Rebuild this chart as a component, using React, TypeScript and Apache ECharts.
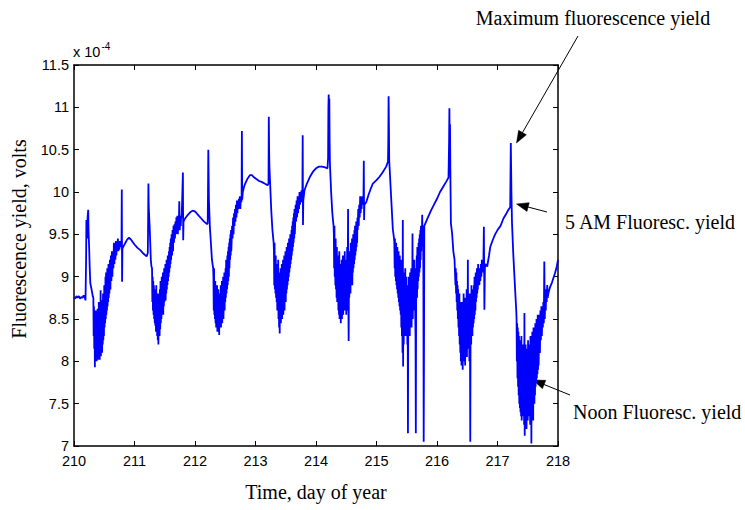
import React, { useEffect, useRef } from "react";
import * as echarts from "echarts";

// ---- data (time in day of year, fluorescence yield in units of 1e-4 V) ----
const xTicks = [210, 211, 212, 213, 214, 215, 216, 217, 218];
const yTicks = [7, 7.5, 8, 8.5, 9, 9.5, 10, 10.5, 11, 11.5];

const day210Start: [number, number][] = [
  [210.0, 8.76], [210.02, 8.74], [210.04, 8.77], [210.06, 8.75], [210.08, 8.77], [210.1, 8.74],
  [210.12, 8.76], [210.14, 8.75], [210.16, 8.78], [210.18, 8.75], [210.19, 8.72], [210.2, 9.2],
  [210.205, 9.67], [210.215, 9.45], [210.225, 9.7], [210.235, 9.79], [210.24, 9.55], [210.25, 9.35],
  [210.26, 9.1], [210.27, 8.92], [210.29, 8.85], [210.31, 8.77],
];
const trough210 = [
  8.75, 8.3, 8.65, 8.15, 8.6, 7.93, 8.55, 8.05, 8.5, 8.1, 8.6, 8.0, 8.45, 8.15, 8.62, 8.02, 8.5, 8.08,
  8.7, 8.12, 8.48, 8.02, 8.58, 8.1, 8.84, 8.06, 8.6, 8.15, 8.72, 8.1, 8.65, 8.2, 8.8, 8.25, 8.7, 8.3,
  8.9, 8.4, 8.82, 8.45, 9.0, 8.5, 9.05, 8.55, 8.95, 8.6, 9.1, 8.65, 9.0, 8.7, 9.15, 8.75, 9.1,
];
const rise210 = [
  8.8, 9.2, 8.85, 9.25, 8.95, 9.3, 9.0, 9.3, 9.1, 9.4, 9.15, 9.38, 9.2, 9.42, 9.25, 9.4, 9.3, 9.45,
  9.3, 9.4, 9.32, 9.42, 9.35, 9.4,
];
const mid211: [number, number][] = [
  [210.785, 9.38], [210.79, 10.03], [210.795, 8.94], [210.8, 9.33], [210.82, 9.36], [210.85, 9.4],
  [210.88, 9.44], [210.91, 9.46], [210.94, 9.44], [210.97, 9.41], [211.0, 9.38], [211.05, 9.34],
  [211.1, 9.31], [211.15, 9.27], [211.2, 9.24], [211.22, 9.28], [211.225, 9.62], [211.23, 10.1],
  [211.235, 9.85], [211.24, 9.75], [211.25, 9.6], [211.26, 9.4], [211.27, 9.2], [211.28, 9.12],
];
const trough211 = [
  9.1, 8.7, 9.0, 8.6, 8.95, 8.55, 8.9, 8.5, 8.85, 8.45, 8.8, 8.42, 8.75, 8.35, 8.9, 8.4, 8.7, 8.3,
  8.65, 8.25, 8.8, 8.2, 8.6, 8.35, 8.7, 8.3, 8.85, 8.38, 8.95, 8.45, 8.7, 8.5, 9.0, 8.55, 8.8, 8.6,
  9.05, 8.55, 8.9, 8.65, 9.1, 8.7, 9.0, 8.75, 9.15, 8.72, 9.05, 8.8, 9.2, 8.85, 9.1, 8.9, 9.25, 8.95,
  9.2, 9.0, 9.3, 9.05, 9.35, 9.1, 9.4, 9.15, 9.45,
];
const rise211 = [
  9.2, 9.5, 9.25, 9.55, 9.3, 9.6, 9.4, 9.62, 9.45, 9.65, 9.5, 9.7, 9.55, 9.72, 9.5, 9.68, 9.6, 9.89,
  9.55, 9.7, 9.6, 9.72,
];
const mid212: [number, number][] = [
  [211.78, 9.7], [211.8, 10.23], [211.805, 9.43], [211.81, 9.65], [211.83, 9.68], [211.87, 9.72],
  [211.92, 9.76], [211.96, 9.78], [212.0, 9.77], [212.05, 9.73], [212.1, 9.69], [212.15, 9.65],
  [212.2, 9.62], [212.21, 9.63], [212.215, 10.0], [212.22, 10.5], [212.225, 10.2], [212.23, 9.91],
  [212.245, 9.6], [212.26, 9.43], [212.28, 9.2], [212.3, 9.1],
];
const trough212 = [
  9.0, 8.6, 9.1, 8.55, 8.9, 8.5, 8.95, 8.45, 8.8, 8.4, 8.75, 8.5, 8.9, 8.35, 8.7, 8.45, 8.85, 8.38,
  8.6, 8.31, 8.8, 8.42, 8.65, 8.5, 8.9, 8.4, 8.75, 8.55, 8.95, 8.45, 8.85, 8.6, 9.0, 8.5, 8.7, 8.65,
  9.05, 8.6, 8.9, 8.7, 9.1, 8.75, 9.2, 8.8, 9.0, 8.85, 9.25, 8.9, 9.3, 8.95, 9.35, 9.0, 9.4, 9.1,
  9.45, 9.2, 9.5, 9.25, 9.55, 9.3,
];
const rise212 = [
  9.4, 9.6, 9.45, 9.7, 9.5, 9.75, 9.6, 9.8, 9.65, 9.85, 9.7, 9.9, 9.75, 9.88, 9.8, 9.92, 9.85, 9.95,
  9.8, 9.92, 9.88,
];
const mid213: [number, number][] = [
  [212.77, 9.9], [212.775, 10.72], [212.78, 9.91], [212.79, 10.0], [212.81, 10.06], [212.83, 10.1],
  [212.87, 10.16], [212.91, 10.2], [212.94, 10.2], [212.98, 10.17], [213.02, 10.15], [213.06, 10.13],
  [213.1, 10.12], [213.15, 10.1], [213.2, 10.08], [213.215, 10.1], [213.22, 10.89], [213.225, 10.5],
  [213.23, 10.3], [213.245, 10.05], [213.26, 9.79], [213.28, 9.55], [213.3, 9.4],
];
const trough213 = [
  9.3, 8.9, 9.4, 8.85, 9.2, 8.8, 9.25, 8.75, 9.1, 8.7, 9.15, 8.6, 9.0, 8.65, 9.2, 8.5, 8.95, 8.4,
  9.05, 8.33, 8.9, 8.55, 9.1, 8.45, 8.85, 8.6, 9.15, 8.5, 9.0, 8.65, 9.2, 8.55, 8.95, 8.7, 9.25, 8.6,
  9.1, 8.75, 9.3, 8.7, 9.05, 8.8, 9.35, 8.85, 9.2, 8.9, 9.4, 8.95, 9.3, 9.0, 9.45, 9.05, 9.35, 9.1,
  9.5, 9.15, 9.45, 9.2, 9.55, 9.25, 9.6, 9.3, 9.65, 9.35, 9.7, 9.4, 9.75, 9.45, 9.8, 9.5,
];
const rise213 = [9.6, 9.85, 9.65, 9.9, 9.7, 9.95, 9.75, 9.9, 9.8, 10.0, 9.85, 9.95, 9.9, 10.02, 9.88];
const mid214: [number, number][] = [
  [213.775, 9.95], [213.78, 10.67], [213.785, 9.61], [213.79, 9.9], [213.81, 10.02], [213.85, 10.1],
  [213.9, 10.18], [213.95, 10.24], [214.0, 10.28], [214.05, 10.3], [214.1, 10.3], [214.15, 10.29],
  [214.19, 10.28], [214.2, 10.4], [214.205, 11.0], [214.21, 11.15], [214.215, 10.9], [214.22, 11.1],
  [214.225, 10.6], [214.23, 10.34], [214.25, 10.0], [214.27, 9.75], [214.29, 9.6],
];
const trough214 = [
  9.5, 9.1, 9.6, 9.0, 9.4, 8.9, 9.45, 8.85, 9.3, 8.75, 9.35, 8.7, 9.2, 8.8, 9.25, 8.6, 9.1, 8.55,
  9.3, 8.5, 9.0, 8.65, 9.15, 8.45, 8.95, 8.6, 9.2, 8.5, 9.05, 8.7, 9.25, 8.55, 8.9, 8.65, 9.1, 8.75,
  9.3, 8.6, 9.0, 8.7, 9.2, 8.55, 9.15, 8.8, 9.35, 8.6, 9.0, 9.8, 8.7, 8.24, 9.1, 8.75, 9.3, 8.9,
  9.2, 8.8, 9.4, 8.95, 9.15, 9.0, 9.45, 8.9, 9.3, 9.05, 9.5, 9.1, 9.4, 9.15, 9.55, 9.2, 9.6, 9.25,
  9.5, 9.3, 9.65, 9.35, 9.6, 9.4, 9.7,
];
const rise214 = [9.55, 9.8, 9.6, 9.85, 9.7, 9.95, 9.75, 9.9, 9.8, 9.95, 9.85, 9.9];
const mid215: [number, number][] = [
  [214.785, 9.95], [214.79, 10.37], [214.795, 9.67], [214.8, 9.85], [214.83, 9.88], [214.87, 9.97],
  [214.9, 10.03], [214.94, 10.1], [215.0, 10.14], [215.05, 10.18], [215.1, 10.23], [215.16, 10.3],
  [215.19, 10.36], [215.195, 10.6], [215.2, 11.13], [215.205, 10.8], [215.21, 10.38], [215.23, 10.1],
  [215.25, 9.83], [215.27, 9.56], [215.29, 9.45],
];
const trough215 = [
  9.4, 9.1, 9.45, 9.0, 9.35, 8.95, 9.4, 8.9, 9.3, 8.85, 9.35, 8.8, 9.25, 8.75, 9.3, 8.7, 9.2, 8.65,
  9.25, 8.6, 9.15, 8.55, 9.1, 8.4, 9.2, 8.3, 9.0, 8.1, 9.67, 7.94, 8.9, 8.2, 9.05, 8.35, 8.85, 8.45,
  9.1, 8.3, 8.95, 8.5, 9.0, 8.4, 8.9, 8.2, 8.8, 7.15, 8.7, 8.35, 9.0, 8.5, 8.85, 8.3, 9.05, 8.45,
  8.9, 8.55, 9.1, 8.4, 9.0, 8.6, 9.51, 8.5, 9.15, 8.6, 9.0, 8.7, 9.2, 8.65, 9.1, 8.55, 8.3, 7.15,
  8.7, 8.8, 9.25, 8.75, 9.35, 8.85, 9.3, 8.95, 9.4, 9.0, 9.45, 9.05, 9.5, 9.1, 9.55, 9.2, 9.6, 9.3,
  9.5, 9.4, 9.73, 9.5, 9.6, 9.55, 9.0, 7.05, 8.1, 9.6,
];
const mid216: [number, number][] = [
  [215.8, 9.6], [215.85, 9.7], [215.9, 9.78], [215.95, 9.85], [216.0, 9.92], [216.05, 10.0],
  [216.1, 10.06], [216.15, 10.12], [216.19, 10.17], [216.2, 10.6], [216.205, 10.99], [216.21, 10.5],
  [216.215, 10.8], [216.22, 10.3], [216.23, 9.63], [216.25, 9.51], [216.27, 9.3], [216.29, 9.2],
];
const trough216 = [
  9.2, 8.9, 9.1, 8.8, 9.05, 8.7, 8.95, 8.6, 8.9, 8.5, 8.85, 8.4, 8.75, 8.3, 8.8, 8.2, 8.7, 8.1,
  8.65, 8.0, 8.6, 7.95, 8.7, 8.05, 8.55, 7.9, 8.65, 8.1, 8.8, 8.0, 8.6, 8.15, 8.75, 7.95, 8.5, 8.1,
  8.7, 8.2, 8.85, 8.05, 8.6, 8.2, 9.2, 8.15, 8.7, 8.3, 8.55, 8.0, 8.8, 8.25, 7.05, 8.4, 8.65, 8.2,
  8.9, 8.35, 8.7, 8.3, 8.85, 8.4, 8.75, 8.45, 8.9, 8.5, 9.0, 8.55, 8.85, 8.6, 9.05, 8.7, 8.95, 8.75,
  9.1, 8.8, 9.0, 8.85, 9.15, 8.9, 9.05, 8.95,
];
const rise216 = [8.9, 9.1, 8.95, 9.15, 9.0, 9.2, 9.05, 9.1, 9.15, 9.59, 8.61, 9.1, 9.15];
const mid217: [number, number][] = [
  [216.83, 9.12], [216.86, 9.25], [216.88, 9.35], [216.92, 9.43], [216.96, 9.5], [217.0, 9.55],
  [217.05, 9.6], [217.1, 9.69], [217.15, 9.75], [217.18, 9.79], [217.21, 9.82], [217.215, 10.2],
  [217.22, 10.58], [217.225, 10.3], [217.23, 9.99], [217.24, 9.63], [217.26, 9.28], [217.28, 9.0],
  [217.3, 8.73], [217.31, 8.6],
];
const trough217 = [
  8.5, 8.0, 8.45, 7.8, 8.4, 7.7, 8.35, 7.6, 8.3, 7.5, 8.2, 7.45, 8.25, 7.4, 8.1, 7.35, 8.3, 7.3,
  8.15, 7.5, 8.05, 7.35, 8.2, 7.4, 8.0, 7.25, 8.57, 7.12, 8.1, 7.3, 8.2, 7.45, 7.95, 7.2, 8.15, 7.4,
  8.0, 7.3, 8.25, 7.5, 8.1, 7.35, 8.2, 7.45, 8.0, 7.25, 8.3, 7.5, 8.05, 7.03, 8.15, 7.4, 8.35, 7.55,
  8.1, 7.3, 8.4, 7.6, 8.2, 7.5, 8.3, 7.6, 8.45, 7.7, 8.35, 7.75, 8.5, 7.8, 8.4, 7.85, 8.55, 7.9,
  8.5, 7.95,
];
const rise217 = [
  8.2, 8.55, 8.1, 8.6, 8.25, 8.65, 8.3, 8.6, 8.4, 8.7, 8.45, 9.18, 8.5, 8.8, 8.6, 8.85, 8.7, 8.9, 8.75,
];
const end218: [number, number][] = [
  [217.84, 8.8], [217.87, 8.88], [217.9, 8.93], [217.95, 9.04], [217.98, 9.12], [218.0, 9.2],
];

// samples recorded at regular intervals between a start and an end time
function sampled(start: number, end: number, values: number[]): [number, number][] {
  const n = values.length;
  return values.map((v, i) => [start + ((end - start) * i) / (n - 1), v]);
}

const series: [number, number][] = [
  ...day210Start,
  ...sampled(210.32, 210.58, trough210),
  ...sampled(210.585, 210.775, rise210),
  ...mid211,
  ...sampled(211.29, 211.6, trough211),
  ...sampled(211.605, 211.772, rise211),
  ...mid212,
  ...sampled(212.305, 212.6, trough212),
  ...sampled(212.605, 212.765, rise212),
  ...mid213,
  ...sampled(213.305, 213.65, trough213),
  ...sampled(213.655, 213.768, rise213),
  ...mid214,
  ...sampled(214.295, 214.685, trough214),
  ...sampled(214.69, 214.778, rise214),
  ...mid215,
  ...sampled(215.295, 215.79, trough215),
  ...mid216,
  ...sampled(216.3, 216.695, trough216),
  ...sampled(216.7, 216.8, rise216),
  ...mid217,
  ...sampled(217.315, 217.68, trough217),
  ...sampled(217.685, 217.83, rise217),
  ...end218,
];

const SERIF = "'Liberation Serif', 'Times New Roman', serif";
const SANS = "'Liberation Sans', Arial, sans-serif";

function arrow(x1: number, y1: number, x2: number, y2: number): any[] {
  const a = Math.atan2(y2 - y1, x2 - x1);
  const L = 12;
  const W = 4.5;
  const c = Math.cos(a);
  const s = Math.sin(a);
  const bx = x2 - L * c;
  const by = y2 - L * s;
  return [
    { type: "line", shape: { x1, y1, x2: bx, y2: by }, style: { stroke: "#000", lineWidth: 1 } },
    {
      type: "polygon",
      shape: { points: [[x2, y2], [bx - W * s, by + W * c], [bx + W * s, by - W * c]] },
      style: { fill: "#000", stroke: "#000", lineWidth: 0.5 },
    },
  ];
}

export default function App() {
  const ref = useRef<HTMLDivElement>(null);
  useEffect(() => {
    if (!ref.current) return;
    const chart = echarts.init(ref.current, undefined, { renderer: "svg" });
    const axisCommon = {
      type: "value" as const,
      splitLine: { show: false },
      axisLine: { show: true, onZero: false, lineStyle: { color: "#000", width: 1.5 } },
      axisTick: { show: true, inside: true, length: 5, lineStyle: { color: "#000", width: 1 } },
    };
    chart.setOption({
      animation: false,
      backgroundColor: "#fff",
      grid: { left: 74, top: 65, width: 484, height: 381, containLabel: false },
      xAxis: [
        {
          ...axisCommon,
          position: "bottom",
          min: xTicks[0],
          max: xTicks[xTicks.length - 1],
          interval: 1,
          axisLabel: { color: "#000", fontFamily: SANS, fontSize: 14.5, lineHeight: 12, margin: 9 },
        },
        {
          ...axisCommon,
          position: "top",
          min: xTicks[0],
          max: xTicks[xTicks.length - 1],
          interval: 1,
          axisLabel: { show: false },
        },
      ],
      yAxis: [
        {
          ...axisCommon,
          position: "left",
          min: yTicks[0],
          max: yTicks[yTicks.length - 1],
          interval: 0.5,
          axisLabel: { color: "#000", fontFamily: SANS, fontSize: 14.5, lineHeight: 11, margin: 5 },
        },
        {
          ...axisCommon,
          position: "right",
          min: yTicks[0],
          max: yTicks[yTicks.length - 1],
          interval: 0.5,
          axisLabel: { show: false },
        },
      ],
      series: [
        {
          type: "line",
          xAxisIndex: 0,
          yAxisIndex: 0,
          data: series,
          showSymbol: false,
          symbol: "none",
          lineStyle: { color: "#0000ff", width: 1.8 },
          z: 1,
        },
      ],
      graphic: [
        {
          type: "text",
          x: 73,
          y: 52,
          style: { text: "x 10", font: `14.5px ${SANS}`, fill: "#000", textAlign: "left", textVerticalAlign: "middle" },
        },
        {
          type: "text",
          x: 101.5,
          y: 46,
          style: { text: "-4", font: `10px ${SANS}`, fill: "#000", textAlign: "left", textVerticalAlign: "middle" },
        },
        {
          type: "text",
          x: 19,
          y: 239,
          rotation: Math.PI / 2,
          style: {
            text: "Fluorescence yield, volts",
            font: `20px ${SERIF}`,
            fill: "#000",
            textAlign: "center",
            textVerticalAlign: "middle",
          },
        },
        {
          type: "text",
          x: 316,
          y: 492,
          style: { text: "Time, day of year", font: `20px ${SERIF}`, fill: "#000", textAlign: "center", textVerticalAlign: "middle" },
        },
        {
          type: "text",
          x: 593,
          y: 18,
          style: { text: "Maximum fluorescence yield", font: `20px ${SERIF}`, fill: "#000", textAlign: "center", textVerticalAlign: "middle" },
        },
        {
          type: "text",
          x: 565,
          y: 222,
          style: { text: "5 AM Fluoresc. yield", font: `20px ${SERIF}`, fill: "#000", textAlign: "left", textVerticalAlign: "middle" },
        },
        {
          type: "text",
          x: 573,
          y: 412,
          style: { text: "Noon Fluoresc. yield", font: `20px ${SERIF}`, fill: "#000", textAlign: "left", textVerticalAlign: "middle" },
        },
        ...arrow(578, 36, 516.5, 143),
        ...arrow(547, 212, 516.5, 204),
        ...arrow(570, 395, 533, 380),
      ],
    });
    return () => chart.dispose();
  }, []);
  return (
    <div
      ref={ref}
      style={{ position: "absolute", left: 0, top: 0, width: 745, height: 510, background: "#fff" }}
    />
  );
}
